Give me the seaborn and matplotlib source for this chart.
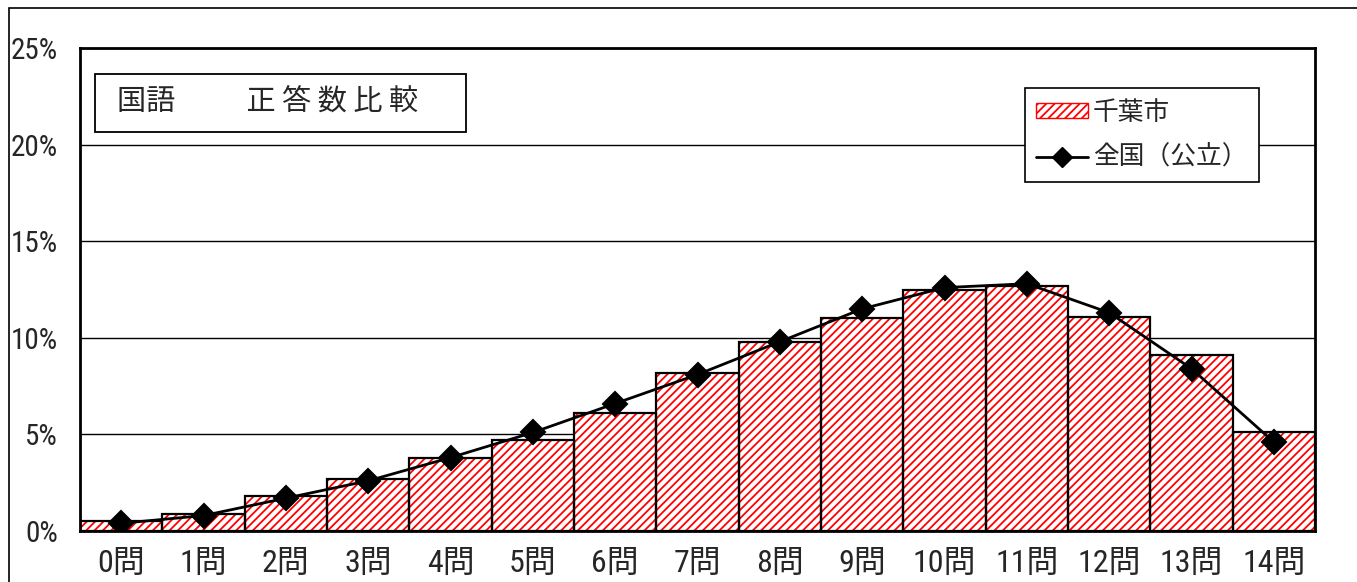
import matplotlib
matplotlib.use('Agg')
import matplotlib.pyplot as plt
import seaborn as sns
from matplotlib import font_manager
from matplotlib.patches import Patch, Rectangle
from matplotlib.lines import Line2D
from matplotlib.path import Path
from matplotlib.ticker import FuncFormatter

# data (percent of students by number of correct answers)
questions = [f'{i}問' for i in range(15)]
chiba = [0.5, 0.9, 1.8, 2.7, 3.8, 4.7, 6.1, 8.2, 9.8, 11.0, 12.5, 12.7, 11.1, 9.1, 5.1]
national = [0.4, 0.8, 1.7, 2.6, 3.8, 5.1, 6.6, 8.1, 9.8, 11.5, 12.6, 12.8, 11.3, 8.4, 4.6]
y_ticks = [0, 5, 10, 15, 20, 25]

sns.set_style('white')

# pick a narrow font for the digits if one is installed
installed = {f.name for f in font_manager.fontManager.ttflist}
narrow = [n for n in ['Liberation Sans Narrow', 'Roboto Condensed', 'Open Sans Condensed',
                      'DejaVu Sans Condensed'] if n in installed]
tick_family = narrow[:1] + ['Noto Sans CJK JP', 'DejaVu Sans']
cjk_family = ['Noto Sans CJK JP', 'DejaVu Sans']
plt.rcParams['font.family'] = tick_family
plt.rcParams['hatch.linewidth'] = 1.3

fig = plt.figure(figsize=(13.57, 5.82), dpi=100)
ax = fig.add_axes([0.0590, 0.0876, 0.9101, 0.8299])

# hatched fill layer, then the black outlines on top
sns.barplot(x=questions, y=chiba, ax=ax, color='white', width=1.0,
            edgecolor='red', linewidth=0, zorder=2)
for p in ax.patches:
    p.set_hatch('////')
sns.barplot(x=questions, y=chiba, ax=ax, fill=False, width=1.0,
            edgecolor='black', linewidth=1.6, zorder=3)

sns.pointplot(x=questions, y=national, ax=ax, color='black', markers='D',
              markersize=12, linewidth=2, zorder=5)
diamond = Path([(0, 1), (0.82, 0), (0, -1), (-0.82, 0), (0, 1)])
ax.lines[-1].set_marker(diamond)
ax.lines[-1].set_markersize(20)

ax.set_xlim(-0.5, 14.5)
ax.set_ylim(0, 25)
ax.set_yticks(y_ticks)
ax.yaxis.set_major_formatter(FuncFormatter(lambda v, _: f'{v:.0f}%'))
ax.grid(axis='y', color='black', linewidth=1, zorder=0)
ax.set_axisbelow(True)
ax.tick_params(axis='y', length=0, pad=16, labelsize=21)
ax.tick_params(axis='x', length=0, pad=13, labelsize=23)
for s in ax.spines.values():
    s.set_color('black')
    s.set_linewidth(2)

# title box
ax.add_patch(Rectangle((0.0122, 0.826), 0.3004, 0.120, transform=ax.transAxes,
                       facecolor='white', edgecolor='black', linewidth=1.3, zorder=6))
ax.text(0.0300, 0.886, '国語 　　 正 答 数 比 較', transform=ax.transAxes,
        fontsize=21, family=cjk_family, va='center', ha='left', zorder=7)

handles = [
    Patch(facecolor='white', edgecolor='red', hatch='////', label='千葉市'),
    Line2D([0], [0], color='black', marker='D', markersize=10, linewidth=2,
           label='全国（公立）'),
]
leg = ax.legend(handles=handles, loc='upper left', bbox_to_anchor=(0.765, 0.917),
                frameon=True, fancybox=False, framealpha=1, edgecolor='black',
                prop={'family': cjk_family, 'size': 18.5},
                handlelength=2.0, handleheight=0.55, handletextpad=0.2,
                borderpad=0.45, labelspacing=0.75, borderaxespad=0)
leg.get_frame().set_linewidth(1.2)
leg.set_zorder(8)

# outer border of the chart area (only top and left fall inside the image)
fig.patches.append(Rectangle((0.0066, -0.1), 2.0, 1.086, transform=fig.transFigure,
                             fill=False, edgecolor='black', linewidth=1.2))

fig.savefig('out.png', dpi=100)
